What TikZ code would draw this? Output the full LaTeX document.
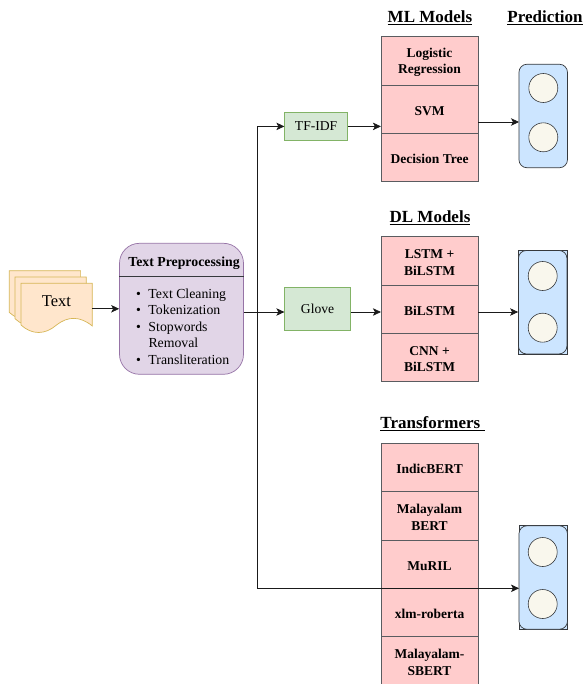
\documentclass[tikz,border=0pt]{standalone}
\usepackage{fontspec}
\setmainfont{Liberation Serif}
\usetikzlibrary{arrows.meta}
\definecolor{cellfill}{HTML}{FFCCCC}
\definecolor{darkline}{HTML}{5A5C60}
\definecolor{predline}{HTML}{36393D}
\definecolor{greenfill}{HTML}{D5E8D4}
\definecolor{greenline}{HTML}{82B366}
\definecolor{purplefill}{HTML}{E1D5E7}
\definecolor{purpleline}{HTML}{9673A6}
\definecolor{docfill}{HTML}{FFE6CC}
\definecolor{docline}{HTML}{D6B656}
\definecolor{bluefill}{HTML}{CCE5FF}
\definecolor{circfill}{HTML}{F9F7ED}
\definecolor{wire}{HTML}{1A1A1A}
\tikzset{
  celltext/.style={inner sep=0pt,yshift=-1.7pt,align=center,font=\fontsize{13.5}{16.5}\bfseries\selectfont,text=black},
  cell48/.style={draw=darkline,fill=cellfill,line width=0.7pt,minimum width=96.7pt,minimum height=48.2pt,inner sep=0pt,label={[celltext]center:#1}},
  cell48t/.style={cell48={#1},minimum height=48.4pt},
  embed/.style={draw=greenline,fill=greenfill,line width=0.7pt,inner sep=0pt,font=\fontsize{13.6}{15}\selectfont},
  header/.style={inner sep=0pt,font=\fontsize{17}{19}\bfseries\selectfont},
  predbox/.style={draw=predline,fill=bluefill,line width=0.7pt,rounded corners=8pt,minimum width=48.5pt,minimum height=103.5pt,inner sep=0pt},
  predback/.style={draw=predline,fill=bluefill,line width=0.7pt,minimum width=48.5pt,minimum height=103.5pt,inner sep=0pt},
  neuron/.style={circle,draw=predline,fill=circfill,line width=0.6pt,minimum size=29pt,inner sep=0pt},
  docpage/.style={draw=docline,fill=docfill,line width=0.7pt},
  conn/.style={draw=wire,line width=0.7pt,-{Stealth[length=8pt,width=7.5pt,inset=2pt]}},
}
\newcommand{\pagepath}{(21,283.3) -- (92.3,283.3) -- (92.3,326) .. controls (80,316) and (68,316) .. (56.5,325) .. controls (45,335) and (32,335) .. (21,325) -- cycle}
\newcommand{\hdr}[1]{\underline{\mbox{#1}}}
\newcommand{\bul}{\llap{•\hspace{7.5pt}}}
\begin{document}
\begin{tikzpicture}[x=1pt,y=-1pt]
\useasboundingbox (0,0) rectangle (583,684);
% stacked pages
\draw[docpage,shift={(-11.7,-12.6)}] \pagepath;
\draw[docpage,shift={(-6,-6.3)}] \pagepath;
\draw[docpage] \pagepath;
\node[inner sep=0pt,minimum width=71.3pt,minimum height=51.4pt] (front) at (56.6,308.8) {};
\node[inner sep=0pt,font=\fontsize{16.5}{18}\selectfont] (textlabel) at (56.5,301) {Text};
% preprocessing
\node[draw=purpleline,fill=purplefill,line width=0.7pt,rounded corners=20pt,minimum width=124pt,minimum height=131pt,inner sep=0pt] (pre) at (181.5,308.8) {};
\draw[draw=predline,line width=0.6pt] (pre.west |- 0,276.3) -- (pre.east |- 0,276.3);
\node[inner sep=0pt,font=\fontsize{13.8}{15}\bfseries\selectfont] (pretitle) at (184,263.5) {Text Preprocessing};
\node[inner sep=0pt,anchor=west,align=left,font=\fontsize{13.8}{16.5}\selectfont] (prelist) at (148.3,326.7) {\bul Text Cleaning\\\bul Tokenization\\\bul Stopwords\\Removal\\\bul Transliteration};
% embeddings
\node[embed,minimum width=62.8pt,minimum height=27.8pt] (tfidf) at (316.1,126.4) {TF-IDF};
\node[embed,minimum width=65.8pt,minimum height=43.2pt] (glove) at (317.6,308.9) {Glove};
% ML stack
\node[header] (mlh) at (430,17.5) {\hdr{ML Models}};
\node[cell48={Logistic\\Regression}] (ml1) at (429.6,60.8) {};
\node[cell48={SVM}] (ml2) at (429.6,109) {};
\node[cell48={Decision Tree}] (ml3) at (429.6,157.2) {};
% DL stack
\node[header] (dlh) at (430,217.5) {\hdr{DL Models}};
\node[cell48={LSTM +\\BiLSTM}] (dl1) at (429.6,260.8) {};
\node[cell48={BiLSTM}] (dl2) at (429.6,309) {};
\node[cell48={CNN +\\BiLSTM}] (dl3) at (429.6,357.2) {};
% Transformer stack
\node[header] (trh) at (432.5,423.5) {\hdr{Transformers\ }};
\node[cell48t={IndicBERT}] (tr1) at (429.6,467.3) {};
\node[cell48t={Malayalam\\BERT}] (tr2) at (429.6,515.7) {};
\node[cell48t={MuRIL}] (tr3) at (429.6,564.1) {};
\node[cell48t={xlm-roberta}] (tr4) at (429.6,612.5) {};
\node[cell48t={Malayalam-\\SBERT}] (tr5) at (429.6,660.9) {};
% Prediction
\node[header] (predh) at (545,17.5) {\hdr{Prediction}};
\node[predbox] (p1) at (543.2,116) {};
\node[neuron] (p1a) at (543.3,88) {};
\node[neuron] (p1b) at (543.3,137.3) {};
\node[predback] (p2b) at (542.7,302.2) {};
\node[predbox] (p2) at (542.7,302.2) {};
\node[neuron] (p2a) at (542.7,276) {};
\node[neuron] (p2c) at (542.7,327.7) {};
\node[predback] (p3b) at (543.2,577.5) {};
\node[predbox] (p3) at (543.2,577.5) {};
\node[neuron] (p3a) at (542.7,552) {};
\node[neuron] (p3c) at (542.7,604) {};
% connectors
\coordinate (trunk) at (257.5,312);
\coordinate (in3) at (519,588.3);
\coordinate (in1) at (519,122);
\coordinate (out1) at (478,122);
\draw[conn] (front.east) -- (pre.west |- front.east);
\draw[conn] (pre.east |- trunk) -- (glove.west |- trunk);
\draw[conn] (trunk) |- (tfidf.west);
\draw[conn] (trunk) |- (in3);
\draw[conn] (tfidf.east) -- (ml1.west |- tfidf.east);
\draw[conn] (glove.east |- trunk) -- (dl2.west |- trunk);
\draw[conn] (out1) -- (in1);
\draw[conn] (dl2.east |- trunk) -- (p2.west |- trunk);
\end{tikzpicture}
\end{document}
